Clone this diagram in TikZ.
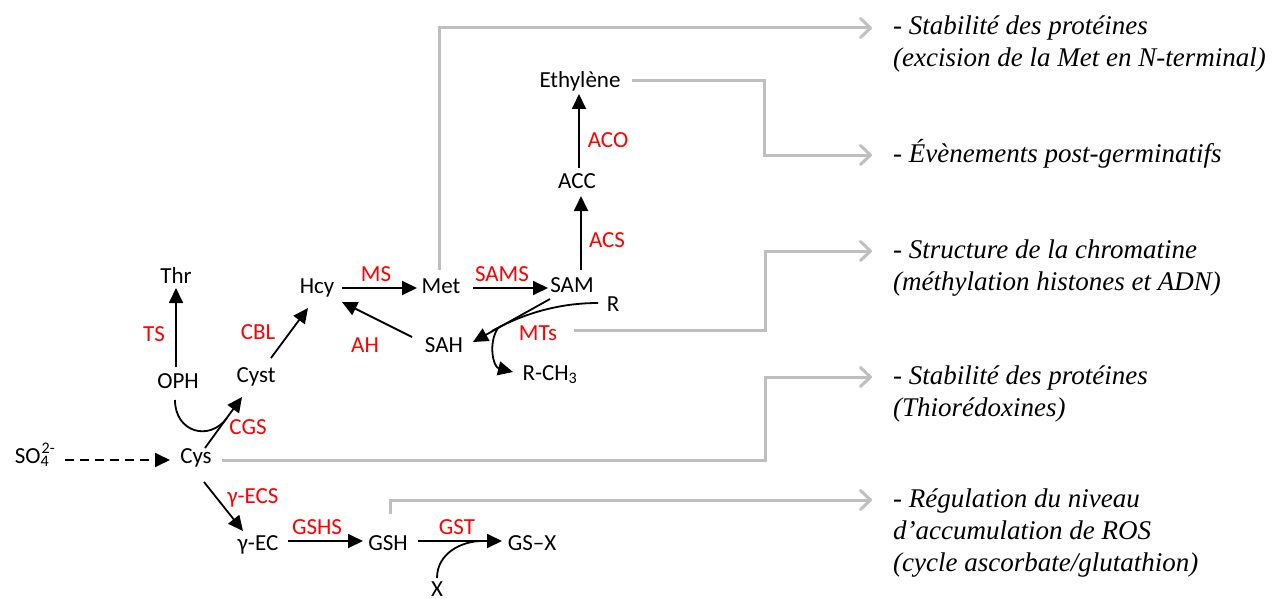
\documentclass[tikz,border=0pt]{standalone}
\usepackage{fontspec}
\setmainfont{Carlito}
\newfontfamily\notefont{Liberation Serif}
\usetikzlibrary{arrows.meta}
\definecolor{lgray}{RGB}{191,191,191}
\definecolor{ered}{RGB}{255,0,0}
\begin{document}
\begin{tikzpicture}[x=1pt,y=-1pt,
  mol/.style={font=\fontsize{23}{27}\selectfont, text height=16pt, text depth=2pt, inner sep=0pt},
  enz/.style={mol, text=ered},
  arr/.style={line width=1.8pt, -{Triangle[length=15pt,width=14pt]}},
  link/.style={line width=1.8pt},
  garr/.style={draw=lgray, line width=3pt, -{Straight Barb[length=10pt,width=19pt,line cap=round,line join=round]}},
  note/.style={font=\notefont\itshape\fontsize{27}{32}\selectfont, inner sep=0pt, anchor=base west}]
\useasboundingbox (0,0) rectangle (1282,599);
% molecules
\node[mol] (Thr) at (176,276) {Thr};
\node[mol] (OPH) at (178,381) {OPH};
\node[mol] (Cyst) at (256,375) {Cyst};
\node[mol] (Hcy) at (317,286) {Hcy};
\node[mol] (Met) at (441,286) {Met};
\node[mol] (SAM) at (572,285) {SAM};
\node[mol] (R) at (613,304) {R};
\node[mol] (SAH) at (444,345) {SAH};
\node[mol] (RCH) at (550,373) {R-CH\textsubscript{3}};
\node[mol] (ACC) at (577,181) {ACC};
\node[mol] (Eth) at (580,81) {Ethylène};
\node[mol] (Cys) at (196,456) {Cys};
\node[mol] (SO) at (35,456) {SO\rlap{\textsubscript{4}}\kern1pt\textsuperscript{2-}};
\node[mol] (gEC) at (258,543) {γ-EC};
\node[mol] (GSH) at (388,543) {GSH};
\node[mol] (GSX) at (532,543) {GS–X};
\node[mol] (X) at (437,589) {X};
% enzymes
\node[enz] (TS) at (154,334) {TS};
\node[enz] (CBL) at (258,332) {CBL};
\node[enz] (MS) at (376,274) {MS};
\node[enz] (SAMS) at (502,274) {SAMS};
\node[enz] (AH) at (365,345) {AH};
\node[enz] (MTs) at (538,333) {MTs};
\node[enz] (ACS) at (607,240) {ACS};
\node[enz] (ACO) at (608,140) {ACO};
\node[enz] (CGS) at (248,427) {CGS};
\node[enz] (gECS) at (253,496) {γ-ECS};
\node[enz] (GSHS) at (317,527) {GSHS};
\node[enz] (GST) at (457,527) {GST};
% notes
\node[note] (n1) at (893,35) {\begin{tabular}[t]{@{}l@{}}- Stabilité des protéines\\(excision de la Met en N-terminal)\end{tabular}};
\node[note] (n2) at (893,162) {\begin{tabular}[t]{@{}l@{}}- Évènements post-germinatifs\end{tabular}};
\node[note] (n3) at (893,258) {\begin{tabular}[t]{@{}l@{}}- Structure de la chromatine\\(méthylation histones et ADN)\end{tabular}};
\node[note] (n4) at (893,384) {\begin{tabular}[t]{@{}l@{}}- Stabilité des protéines\\(Thiorédoxines)\end{tabular}};
\node[note] (n5) at (893,507) {\begin{tabular}[t]{@{}l@{}}- Régulation du niveau\\d’accumulation de ROS\\(cycle ascorbate/glutathion)\end{tabular}};
\foreach \i in {1,...,5} {\coordinate (a\i) at ([shift={(-21,-7)}]n\i.base west);}
% black connectors
\draw[arr] ([shift={(-2,-14)}]OPH.center) -- ([shift={(0,12)}]Thr.center);
\draw[arr] ([shift={(9,-8)}]Cys.center) -- ([shift={(-14,22)}]Cyst.center);
\draw[link] ([shift={(-3,19)}]OPH.center) .. controls +(0,32) and +(-18,24) .. ([shift={(31,-38)}]Cys.center);
\draw[arr] ([shift={(15,-17)}]Cyst.center) -- ([shift={(-9,22)}]Hcy.center);
\draw[arr] ([shift={(25,2)}]Hcy.center) -- ([shift={(-24,2)}]Met.center);
\draw[arr] ([shift={(32,2)}]Met.center) -- ([shift={(-24,3)}]SAM.center);
\draw[arr] ([shift={(-22,14)}]SAM.center) -- ([shift={(29,-3)}]SAH.center);
\draw[link] ([shift={(-15,-1)}]R.center) .. controls +(-45,0) and +(25,-14) .. ([shift={(48,-14)}]SAH.center);
\draw[arr] ([shift={(54,-17)}]SAH.center) .. controls +(-10,15) and +(-20,-5) .. ([shift={(-37,-1)}]RCH.center);
\draw[arr] ([shift={(-32,-8)}]SAH.center) -- ([shift={(25,16)}]Hcy.center);
\draw[arr] ([shift={(9,-15)}]SAM.center) -- ([shift={(4,15)}]ACC.center);
\draw[arr] ([shift={(2,-13)}]ACC.center) -- ([shift={(-1,13)}]Eth.center);
\draw[arr, dash pattern=on 9pt off 6pt] ([shift={(30,4)}]SO.center) -- ([shift={(-26,4)}]Cys.center);
\draw[arr] ([shift={(8,26)}]Cys.center) -- ([shift={(-15,-12)}]gEC.center);
\draw[arr] ([shift={(30,-2)}]gEC.center) -- ([shift={(-25,-2)}]GSH.center);
\draw[arr] ([shift={(30,-2)}]GSH.center) -- ([shift={(-30,-2)}]GSX.center);
\draw[link] ([shift={(0,-11)}]X.center) .. controls +(0,-25) and +(-20,0) .. ([shift={(-50,-2)}]GSX.center);
% gray connectors
\draw[garr] ([shift={(-2,-16)}]Met.center) |- (a1);
\draw[garr] ([shift={(52,0)}]Eth.center) -| ([xshift=-108pt]a2) -- (a2);
\draw[garr] ([shift={(36,-3)}]MTs.center) -| ([xshift=-107pt]a3) -- (a3);
\draw[garr] ([shift={(26,4)}]Cys.center) -| ([xshift=-107pt]a4) -- (a4);
\draw[garr] ([shift={(2,-29)}]GSH.center) |- (a5);
\end{tikzpicture}
\end{document}
